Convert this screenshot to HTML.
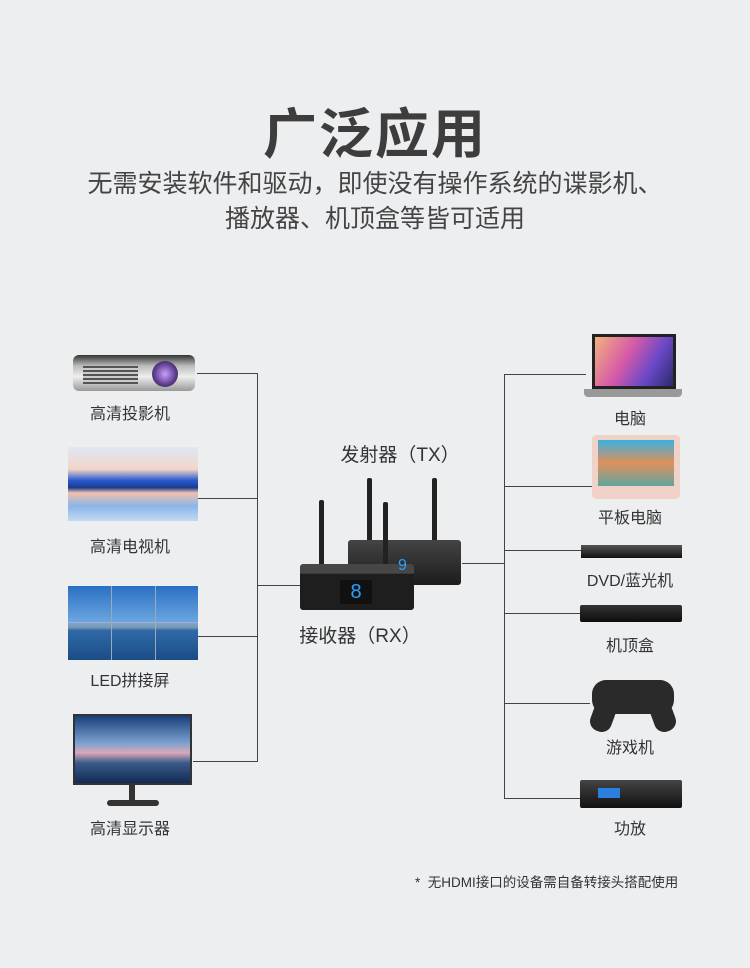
<!DOCTYPE html>
<html><head><meta charset="utf-8"><style>
body{margin:0;width:750px;height:968px;background:#edeef0;position:relative;overflow:hidden;font-family:"Liberation Sans","Noto Sans CJK SC",sans-serif;color:#333}
.a{position:absolute}
.t{position:absolute;font-size:16px;color:#333;text-align:center;white-space:nowrap}
.l{position:absolute;background:#444}
</style></head><body>
<div class="a" style="left:0;top:90px;width:750px;text-align:center;font-size:54px;font-weight:bold;color:#3d3d3d;letter-spacing:2px">广泛应用</div>
<div class="a" style="left:0;top:167px;width:750px;text-align:center;font-size:25px;line-height:35px;color:#444">无需安装软件和驱动，即使没有操作系统的谍影机、<br>播放器、机顶盒等皆可适用</div>

<!-- left lines -->
<div class="l" style="left:257px;top:373px;width:1px;height:389px"></div>
<div class="l" style="left:197px;top:373px;width:60px;height:1px"></div>
<div class="l" style="left:197px;top:498px;width:60px;height:1px"></div>
<div class="l" style="left:197px;top:636px;width:60px;height:1px"></div>
<div class="l" style="left:193px;top:761px;width:64px;height:1px"></div>
<div class="l" style="left:257px;top:585px;width:44px;height:1px"></div>
<!-- right lines -->
<div class="l" style="left:504px;top:374px;width:1px;height:425px"></div>
<div class="l" style="left:504px;top:374px;width:82px;height:1px"></div>
<div class="l" style="left:504px;top:486px;width:88px;height:1px"></div>
<div class="l" style="left:504px;top:550px;width:78px;height:1px"></div>
<div class="l" style="left:504px;top:613px;width:76px;height:1px"></div>
<div class="l" style="left:504px;top:703px;width:86px;height:1px"></div>
<div class="l" style="left:504px;top:798px;width:76px;height:1px"></div>
<div class="l" style="left:462px;top:563px;width:42px;height:1px"></div>

<!-- left devices -->
<div class="a" style="left:73px;top:355px;width:122px;height:36px;background:linear-gradient(#333,#bbb 30%,#eee 60%,#999);border-radius:6px"></div>
<div class="a" style="left:83px;top:366px;width:55px;height:18px;background:repeating-linear-gradient(#555 0 2px,#ccc 2px 4px)"></div>
<div class="a" style="left:152px;top:361px;width:26px;height:26px;border-radius:50%;background:radial-gradient(#c9a0ff,#5a3a8a 60%,#222)"></div>
<div class="t" style="left:60px;top:400px;width:140px">高清投影机</div>

<div class="a" style="left:68px;top:447px;width:130px;height:74px;background:linear-gradient(#dfe8f4,#f3d5c8 30%,#2a5ad0 45%,#1c3c8c 55%,#f0c0b0 62%,#8ab6e8 80%,#c4daf2)"></div>
<div class="t" style="left:60px;top:533px;width:140px">高清电视机</div>

<div class="a" style="left:68px;top:586px;width:130px;height:74px;background:linear-gradient(#2a6fc4,#6ea8e0 50%,#7f97a8 56%,#2e6aa8 60%,#1b4c86);"></div>
<div class="a" style="left:68px;top:622px;width:130px;height:1px;background:#aac"></div>
<div class="a" style="left:111px;top:586px;width:1px;height:74px;background:#9ab"></div>
<div class="a" style="left:155px;top:586px;width:1px;height:74px;background:#9ab"></div>
<div class="t" style="left:60px;top:667px;width:140px">LED拼接屏</div>

<div class="a" style="left:73px;top:714px;width:119px;height:71px;background:linear-gradient(#1b3f7a,#7aa0d0 40%,#d9a8b8 55%,#3a5a8a 70%,#122a55);border:2px solid #333;box-sizing:border-box"></div>
<div class="a" style="left:129px;top:785px;width:6px;height:16px;background:#333"></div>
<div class="a" style="left:107px;top:800px;width:52px;height:6px;background:#333;border-radius:3px"></div>
<div class="t" style="left:60px;top:815px;width:140px">高清显示器</div>

<!-- center -->
<div class="t" style="left:330px;top:440px;width:140px;font-size:19px">发射器（TX）</div>
<div class="a" style="left:367px;top:478px;width:5px;height:70px;background:#222;border-radius:2px"></div>
<div class="a" style="left:432px;top:478px;width:5px;height:70px;background:#222;border-radius:2px"></div>
<div class="a" style="left:348px;top:540px;width:113px;height:45px;background:linear-gradient(#444,#1c1c1c);border-radius:3px"></div>
<div class="a" style="left:319px;top:500px;width:5px;height:70px;background:#222;border-radius:2px"></div>
<div class="a" style="left:383px;top:502px;width:5px;height:70px;background:#222;border-radius:2px"></div>
<div class="a" style="left:300px;top:564px;width:114px;height:46px;background:linear-gradient(#474747 0 20%,#1e1e1e 22%);border-radius:3px"></div>
<div class="a" style="left:340px;top:580px;width:32px;height:24px;background:#111;color:#2aa0ff;font-size:20px;text-align:center;line-height:24px">8</div>
<div class="a" style="left:398px;top:557px;color:#2aa0ff;font-size:16px">9</div>
<div class="t" style="left:290px;top:621px;width:140px;font-size:19px">接收器（RX）</div>

<!-- right devices -->
<div class="a" style="left:592px;top:334px;width:84px;height:55px;background:linear-gradient(120deg,#f2b27a,#d65aa8 40%,#6a48c8 70%,#2a2a6a);border:3px solid #222;box-sizing:border-box"></div>
<div class="a" style="left:584px;top:389px;width:98px;height:8px;background:#999;border-radius:0 0 4px 4px"></div>
<div class="t" style="left:560px;top:405px;width:140px">电脑</div>

<div class="a" style="left:592px;top:435px;width:88px;height:64px;background:#f1d2c8;border-radius:4px"></div>
<div class="a" style="left:598px;top:440px;width:76px;height:46px;background:linear-gradient(#3ab0e0,#e0905a 50%,#5fa6a0)"></div>
<div class="t" style="left:560px;top:504px;width:140px">平板电脑</div>

<div class="a" style="left:581px;top:545px;width:101px;height:13px;background:linear-gradient(#555,#111)"></div>
<div class="t" style="left:560px;top:567px;width:140px">DVD/蓝光机</div>

<div class="a" style="left:580px;top:605px;width:102px;height:17px;background:linear-gradient(#333,#0d0d0d);border-radius:2px"></div>
<div class="t" style="left:560px;top:632px;width:140px">机顶盒</div>

<div class="a" style="left:592px;top:680px;width:82px;height:34px;background:#2a2a2a;border-radius:14px"></div>
<div class="a" style="left:592px;top:700px;width:22px;height:32px;background:#2a2a2a;border-radius:10px;transform:rotate(20deg)"></div>
<div class="a" style="left:652px;top:700px;width:22px;height:32px;background:#2a2a2a;border-radius:10px;transform:rotate(-20deg)"></div>
<div class="t" style="left:560px;top:734px;width:140px">游戏机</div>

<div class="a" style="left:580px;top:780px;width:102px;height:28px;background:linear-gradient(#444,#111);border-radius:2px"></div>
<div class="a" style="left:598px;top:788px;width:22px;height:10px;background:#2a80e0"></div>
<div class="t" style="left:560px;top:815px;width:140px">功放</div>

<div class="a" style="left:415px;top:871px;font-size:13.5px;color:#333;white-space:nowrap">*&nbsp; 无HDMI接口的设备需自备转接头搭配使用</div>
</body></html>
